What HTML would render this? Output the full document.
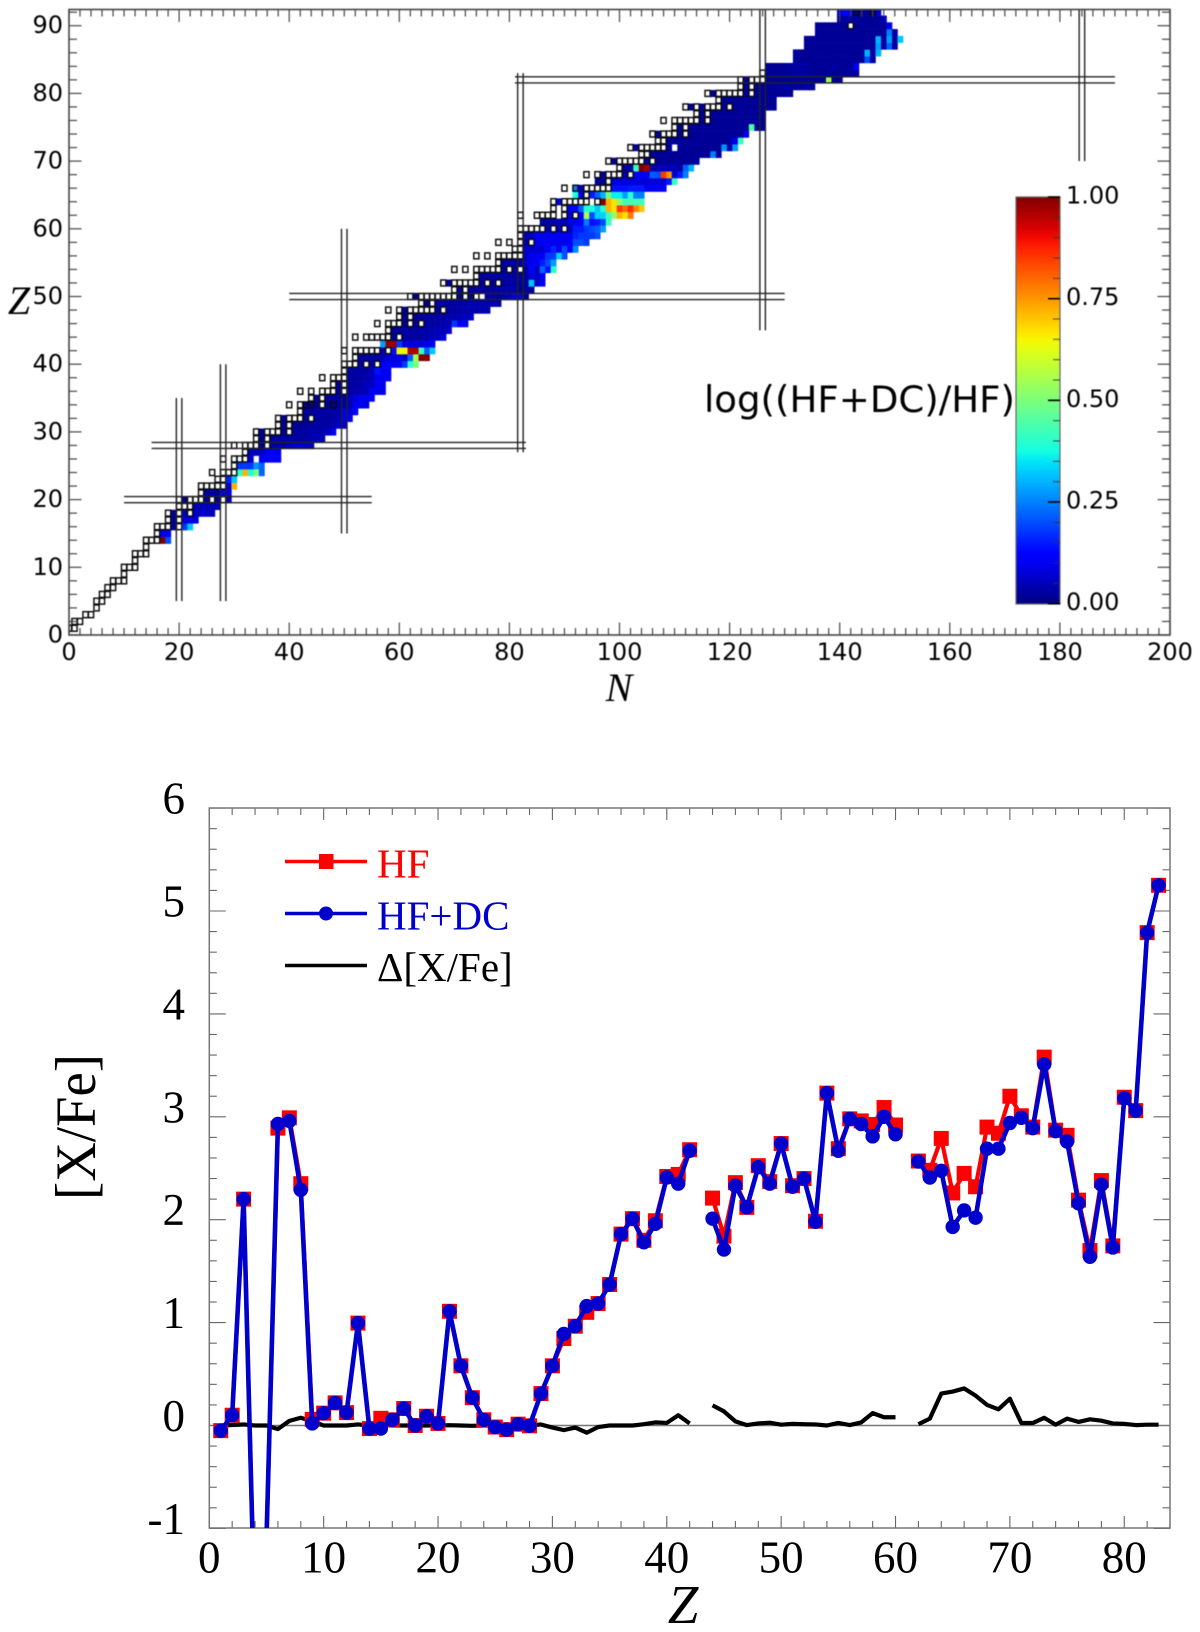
<!DOCTYPE html>
<html lang="en">
<head>
<meta charset="utf-8">
<title>Nuclear chart heat map and [X/Fe] abundance chart</title>
<style>
html,body{margin:0;padding:0;background:#fff;}
svg{display:block;}
.dj{font-family:"DejaVu Sans","Liberation Sans",sans-serif;fill:#000;}
.se{font-family:"Liberation Serif",serif;fill:#000;}
</style>
</head>
<body>
<svg id="fig" xmlns="http://www.w3.org/2000/svg" width="1200" height="1632" viewBox="0 0 1200 1632">
  <defs>
    <clipPath id="top-clip"><rect x="69" y="9.5" width="1101" height="625.5"/></clipPath>
    <clipPath id="bot-clip"><rect x="209.3" y="808" width="960.7" height="720"/></clipPath>
    <linearGradient id="jet-grad" x1="0" y1="1" x2="0" y2="0"></linearGradient>
  </defs>
  <g id="top-panel" style="filter:blur(0.4px)">
    <rect x="69" y="9.5" width="1101" height="625.5" fill="#fff"/>
    <g id="heat" clip-path="url(#top-clip)"></g>
    <g id="stable" clip-path="url(#top-clip)"></g>
    <g id="magic" clip-path="url(#top-clip)"></g>
    <g id="top-ticks"></g>
    <rect x="69" y="9.5" width="1101" height="625.5" fill="none" stroke="#444" stroke-width="1.6"/>
    <g id="top-labels"></g>
    <text class="se" x="619" y="701" font-size="40" font-style="italic" text-anchor="middle">N</text>
    <text class="se" x="19" y="314" font-size="40" font-style="italic" text-anchor="middle">Z</text>
    <text class="dj" x="704" y="412" font-size="36.7" textLength="311" lengthAdjust="spacingAndGlyphs">log((HF+DC)/HF)</text>
    <rect x="1016" y="197" width="44" height="407" fill="url(#jet-grad)" stroke="#666" stroke-width="1.2"/>
    <g id="cb-ticks"></g>
  </g>
  <g id="bottom-panel">
    <g id="bot-ticks"></g>
    <rect x="209.3" y="808" width="960.7" height="720" fill="none" stroke="#777" stroke-width="1.5"/>
    <line x1="209.3" x2="1170" y1="1425.5" y2="1425.5" stroke="#777" stroke-width="1.5"/>
    <g id="series" clip-path="url(#bot-clip)"></g>
    <g id="bot-labels"></g>
    <text class="se" transform="translate(95,1127) rotate(-90)" font-size="57" text-anchor="middle" textLength="146" lengthAdjust="spacingAndGlyphs">[X/Fe]</text>
    <text class="se" x="683" y="1623" font-size="55" font-style="italic" text-anchor="middle">Z</text>
    <g>
      <line x1="285" x2="367" y1="861.5" y2="861.5" stroke="#f00" stroke-width="3.4"/>
      <rect x="319" y="854" width="14.5" height="15" fill="#f00"/>
      <text class="se" x="377" y="877.5" font-size="41" style="fill:#f00">HF</text>
      <line x1="285" x2="367" y1="913.5" y2="913.5" stroke="#0000cd" stroke-width="3.4"/>
      <circle cx="326" cy="913.5" r="7" fill="#0000cd"/>
      <text class="se" x="377" y="929.5" font-size="41" style="fill:#0000cd">HF+DC</text>
      <line x1="285" x2="367" y1="965.5" y2="965.5" stroke="#000" stroke-width="3.6"/>
      <text class="se" x="377" y="981" font-size="41">Δ[X/Fe]</text>
    </g>
  </g>
</svg>
<script>
const X = -1; // no heat value in this cell (white background / stable box)

// ---------- top chart data ----------
const heatFirstZ = 14;
// first neutron number of each row, Z = 14..92
const heatStartN = [17,17,19,19,19,23,21,25,29,29,31,31,33,33,35,35,35,39,39,43,43,45,49,49,51,51,53,53,57,57,59,59,61,61,61,65,63,71,69,75,79,79,83,83,83,83,87,86,91,91,89,92,92,96,97,101,99,106,103,109,107,111,115,115,113,119,117,123,123,127,127,132,132,134,134,136,136,140,140];
// log((HF+DC)/HF) in percent for consecutive N in each row
const heatValues = [
[100,20],
[10,10],
[2,X,18,32],
[2,X,8,8,8],
[2,X,6,X,6,6,6,5],
[5,5,5,5,5],
[2,X,X,X,3,X,3,X,3],
[3,3,3,10,8],
[8,72],
[16,32],
[40,72,38,50,22],
[18,18,18,27,22],
[8,X,10,10,11,11],
[5,5,6,10,10,10],
[2,X,3,3,3,5,7,7,6,6],
[2,X,3,3,3,3,3,3,3,4,5,5],
[2,X,X,X,2,X,3,3,3,4,4,4,6,10],
[2,X,2,2,2,3,3,3,3,4,7,7],
[2,X,X,X,2,X,3,3,3,3,5,10,10],
[3,3,3,3,3,3,4,10,8,10],
[2,2,2,X,2,2,3,3,4,10,10,8],
[2,X,3,3,3,3,5,8,10,10,10],
[2,X,3,4,4,5,10,10,10],
[2,X,3,3,4,5,6,10,10],
[3,3,3,4,5,10,10,10],
[3,3,3,3,5,14,10,10],
[3,X,4,X,10,10,10,12,18,40,50],
[3,3,3,3,5,8,8,8,6,22,55,100,100],
[3,X,14,65,65,96,96,42,22,32],
[28,98,98,18,8,8,8,8,10,10],
[2,X,3,3,3,3,4,5,5,8],
[2,3,3,3,3,3,4,4,5,5,7],
[2,X,2,X,3,3,3,4,4,18,10,10],
[2,X,2,3,3,3,3,3,4,4,5,5,6],
[2,X,X,X,X,X,2,X,3,3,3,4,4,4,4,4],
[2,X,3,3,3,3,3,3,4,4,4,4,4,3],
[2,X,X,X,X,X,X,X,2,X,2,X,X,3,3,3,4,6,10,10,3],
[2,X,3,3,3,3,3,4,4,4,4,2,3,3],
[2,X,X,X,X,X,2,X,2,X,3,3,3,3,3,32,6,10],
[3,3,3,3,3,3,3,3,3,8,6,10],
[2,X,2,X,3,12,5,22,14,40],
[3,3,3,3,7,10,10,15,20,28],
[6,10,10,10,18,18,33,20],
[7,7,7,7,12,16,10,20,12,26],
[3,X,10,10,10,10,10,10,10,20,20,18],
[5,5,12,10,10,10,10,10,10,16,18,18,18,20],
[5,X,5,X,6,15,15,18,20,22,28],
[3,3,4,5,5,8,10,12,25,14,15,20,42],
[8,X,12,55,20,33,33,42,52,72,67,78],
[10,12,22,40,38,32,40,72,67,85,80,87,77,70],
[8,X,X,X,X,X,X,X,100,72,67,52,43,43,43,43],
[38,8,X,15,22,30,50,36,36,28,40,25,25],
[25,5,X,X,X,X,X,14,14,14,15,15,15,10,10,12,10],
[2,2,X,8,8,8,8,8,8,8,8,8,7,15,42],
[2,X,X,X,3,X,10,10,10,22,20,85,75,8,15,25],
[3,3,42,100,97,4,4,5,5,5,3,22,30],
[2,X,X,X,X,X,2,X,2,2,2,2,2,2,2,3],
[2,2,2,2,2,2,2,2,2,2,2,25,3],
[3,X,X,X,X,X,2,X,2,2,2,2,2,2,2,2,27,3,28],
[2,2,2,2,2,2,2,2,2,2,2,3,10,42],
[2,X,X,X,2,X,2,2,2,2,2,2,2,2,2,2,10],
[2,X,2,2,2,2,2,2,2,2,2,2,2,45,2,2],
[2,X,2,2,2,2,2,2,2,2,2,2],
[2,X,2,2,2,2,2,2,2,2,2,2],
[2,X,2,X,X,X,2,X,2,2,2,2,2,2,2,2],
[2,2,2,2,2,2,2,2,2,2],
[2,X,X,X,X,X,2,X,2,2,2,2,2,2,2],
[2,X,2,2,2,2,2,3,2,2,2,3,2],
[2,X,X,X,2,2,2,2,2,2,2,2,2,2,2,55,2,2],
[2,2,2,2,2,3,3,3,2,2,2,2,2,2,2,3,3],
[2,2,2,2,3,3,3,3,2,2,2,2,3,2,2,3,10],
[2,2,2,2,2,2,2,2,2,2,2,2,2,20,3],
[2,2,2,2,2,2,2,2,2,2,2,2,2,30,3,30],
[2,2,2,2,2,2,2,2,2,2,2,2,2,28,3,22,3],
[2,2,2,2,2,2,2,2,2,2,2,2,2,30,3,28,3,32],
[2,2,2,2,2,2,2,2,2,2,2,2,2,25,3],
[2,2,2,2,2,2,X,2,2,2,2,2,2,10],
[3,3,3,2,2,2,2,2,5],
[8,12,10,2,2,2,2,8]
];
// stable isotopes: proton number and mass numbers
const stableZ = [1,2,3,4,5,6,7,8,9,10,11,12,13,14,15,16,17,18,19,20,21,22,23,24,25,26,27,28,29,30,31,32,33,34,35,36,37,38,39,40,41,42,44,45,46,47,48,49,50,51,52,53,54,55,56,57,58,59,60,62,63,64,65,66,67,68,69,70,71,72,73,74,75,76,77,78,79,80,81,82,83,90,92];
const stableA = [[1,2],[3,4],[6,7],[9],[10,11],[12,13],[14,15],[16,17,18],[19],[20,21,22],[23],[24,25,26],[27],[28,29,30],[31],[32,33,34,36],[35,37],[36,38,40],[39,40,41],[40,42,43,44,46,48],[45],[46,47,48,49,50],[50,51],[50,52,53,54],[55],[54,56,57,58],[59],[58,60,61,62,64],[63,65],[64,66,67,68,70],[69,71],[70,72,73,74,76],[75],[74,76,77,78,80,82],[79,81],[78,80,82,83,84,86],[85,87],[84,86,87,88],[89],[90,91,92,94,96],[93],[92,94,95,96,97,98,100],[96,98,99,100,101,102,104],[103],[102,104,105,106,108,110],[107,109],[106,108,110,111,112,113,114,116],[113,115],[112,114,115,116,117,118,119,120,122,124],[121,123],[120,122,123,124,125,126,128,130],[127],[124,126,128,129,130,131,132,134,136],[133],[130,132,134,135,136,137,138],[138,139],[136,138,140,142],[141],[142,143,144,145,146,148,150],[144,147,148,149,150,152,154],[151,153],[152,154,155,156,157,158,160],[159],[156,158,160,161,162,163,164],[165],[162,164,166,167,168,170],[169],[168,170,171,172,173,174,176],[175,176],[174,176,177,178,179,180],[180,181],[180,182,183,184,186],[185,187],[184,186,187,188,189,190,192],[191,193],[190,192,194,195,196,198],[197],[196,198,199,200,201,202,204],[203,205],[204,206,207,208],[209],[232],[235,238]];
// magic-number shells: value, from, to
const magicN = [20,28,50,82,126,184];
const magicNFromZ = [5,5,15,27,45,70];
const magicNToZ = [35,40,60,83,93,93];
const magicZ = [20,28,50,82];
const magicZFromN = [10,15,40,81];
const magicZToN = [55,83,130,190];
const topXTickLabels = [0,20,40,60,80,100,120,140,160,180,200];
const topYTickLabels = [0,10,20,30,40,50,60,70,80,90];
const colorbarLabels = ["0.00","0.25","0.50","0.75","1.00"];

// ---------- bottom chart data ----------
const atomicNumbers = [1,2,3,4,5,6,7,8,9,10,11,12,13,14,15,16,17,18,19,20,21,22,23,24,25,26,27,28,29,30,31,32,33,34,35,36,37,38,39,40,41,42,43,44,45,46,47,48,49,50,51,52,53,54,55,56,57,58,59,60,61,62,63,64,65,66,67,68,69,70,71,72,73,74,75,76,77,78,79,80,81,82,83];
const hfValues = [-0.05,0.10,2.20,-2.0,-1.1,2.89,2.99,2.35,0.06,0.12,0.22,0.125,0.995,-0.03,0.07,0.055,0.165,0.0,0.09,0.02,1.11,0.58,0.27,0.055,-0.015,-0.04,0.013,-0.003,0.31,0.58,0.845,0.965,1.10,1.185,1.37,1.86,2.01,1.80,1.99,2.42,2.44,2.68,null,2.21,1.84,2.36,2.12,2.525,2.37,2.74,2.33,2.40,1.985,3.23,2.69,2.98,2.96,2.925,3.09,2.92,null,2.57,2.48,2.79,2.26,2.45,2.32,2.90,2.84,3.20,3.01,2.90,3.58,2.87,2.82,2.19,1.70,2.38,1.745,3.19,3.06,4.79,5.25];
const hfdcValues = [-0.05,0.10,2.20,-2.0,-1.1,2.93,2.96,2.29,0.02,0.12,0.22,0.125,0.995,-0.03,-0.03,0.055,0.165,0.0,0.09,0.02,1.11,0.58,0.27,0.055,-0.015,-0.04,0.013,-0.003,0.31,0.58,0.89,0.965,1.16,1.185,1.37,1.86,2.01,1.78,1.96,2.41,2.35,2.67,null,2.01,1.71,2.33,2.12,2.51,2.35,2.74,2.32,2.40,1.98,3.23,2.67,2.98,2.93,2.81,3.00,2.83,null,2.565,2.41,2.475,1.93,2.09,2.02,2.69,2.69,2.94,2.99,2.89,3.51,2.86,2.76,2.16,1.64,2.34,1.73,3.18,3.06,4.79,5.25];
const deltaValues = [0,0.005,0.01,0,0,-0.035,0.045,0.075,0.04,0,0,0,0.01,0,0.005,0,0,0,0,0,0.003,0,-0.003,0,0,0,0,0,0.01,-0.02,-0.045,-0.02,-0.07,-0.015,0,0,0,0.013,0.03,0.025,0.10,0.02,null,0.196,0.137,0.04,0.004,0.02,0.027,0.008,0.016,0.012,0.01,0,0.025,0.004,0.03,0.12,0.08,0.08,null,0.012,0.067,0.31,0.33,0.36,0.29,0.20,0.157,0.26,0.024,0.024,0.075,0.008,0.067,0.035,0.06,0.047,0.02,0.016,0.004,0.008,0.008];
const botXTickLabels = [0,10,20,30,40,50,60,70,80];
const botYTickLabels = [-1,0,1,2,3,4,5,6];

// ---------- axis functions ----------
function xN(n){ return 69 + 5.505*n; }
function yZ(z){ return 635 - 6.77*z; }
function xAtom(z){ return 209.3 + 11.437*z; }
function yAbund(v){ return 1425.5 - 102.9*v; }
function yCb(v){ return 603.7 - 406.7*v; }

const NS = 'http://www.w3.org/2000/svg';
function mk(parent, tag, attrs, text){
  const el = document.createElementNS(NS, tag);
  for (const k in attrs) el.setAttribute(k, attrs[k]);
  if (text !== undefined) el.textContent = text;
  parent.appendChild(el);
  return el;
}
function lerp(v, a, b, p, q){ return p + (q-p)*(v-a)/(b-a); }
function jet(v){
  let r, g, b;
  if (v < 0.35) r = 0; else if (v < 0.66) r = lerp(v,0.35,0.66,0,1); else if (v < 0.89) r = 1; else r = lerp(v,0.89,1,1,0.5);
  if (v < 0.125) g = 0; else if (v < 0.375) g = lerp(v,0.125,0.375,0,1); else if (v < 0.64) g = 1; else if (v < 0.91) g = lerp(v,0.64,0.91,1,0); else g = 0;
  if (v < 0.11) b = lerp(v,0,0.11,0.5,1); else if (v < 0.34) b = 1; else if (v < 0.65) b = lerp(v,0.34,0.65,1,0); else b = 0;
  return 'rgb(' + Math.round(r*255) + ',' + Math.round(g*255) + ',' + Math.round(b*255) + ')';
}

// ---------- heatmap ----------
const heatG = document.getElementById('heat');
heatValues.forEach(function(row, i){
  const z = heatFirstZ + i;
  row.forEach(function(val, j){
    if (val < 0) return;
    const n = heatStartN[i] + j;
    const c = mk(heatG, 'rect', {x: xN(n-0.5), y: yZ(z+0.5), width: 5.8, height: 7.05, fill: jet(val/100)});
    
    
  });
});

// ---------- stable boxes ----------
const stableG = document.getElementById('stable');
stableZ.forEach(function(z, i){
  stableA[i].forEach(function(a){
    const n = a - z;
    const b = mk(stableG, 'rect', {x: xN(n-0.47), y: yZ(z+0.44), width: 5.17, height: 5.96, fill: 'none', stroke: '#0a0a0a', 'stroke-width': 1.45});
    
    
  });
});

// ---------- magic-number lines ----------
const magicG = document.getElementById('magic');
magicN.forEach(function(n, i){
  [-0.5, 0.5].forEach(function(off){
    const l = mk(magicG, 'line', {x1: xN(n+off), x2: xN(n+off), y1: yZ(magicNFromZ[i]), y2: yZ(magicNToZ[i]), stroke: '#222', 'stroke-width': 1.4});
    
    
  });
});
magicZ.forEach(function(z, i){
  [-0.45, 0.45].forEach(function(off){
    const l = mk(magicG, 'line', {x1: xN(magicZFromN[i]), x2: xN(magicZToN[i]), y1: yZ(z+off), y2: yZ(z+off), stroke: '#222', 'stroke-width': 1.4});
    
    
  });
});

// ---------- top ticks and labels ----------
const topTicks = document.getElementById('top-ticks');
function tick(parent, x1, y1, x2, y2, color, w){
  const t = mk(parent, 'line', {x1: x1, y1: y1, x2: x2, y2: y2, stroke: color, 'stroke-width': w});
  
  
}
for (let n = 0; n <= 200; n += 2){
  const len = n % 20 === 0 ? 12.5 : 7;
  tick(topTicks, xN(n), 635, xN(n), 635-len, '#444', 1.2);
  tick(topTicks, xN(n), 9.5, xN(n), 9.5+len, '#444', 1.2);
}
for (let z = 0; z <= 92; z += 2){
  const len = z % 10 === 0 ? 12.5 : 8;
  tick(topTicks, 69, yZ(z), 69+len, yZ(z), '#444', 1.2);
  tick(topTicks, 1170, yZ(z), 1170-len, yZ(z), '#444', 1.2);
}
const topLabels = document.getElementById('top-labels');
topXTickLabels.forEach(function(v){
  const t = mk(topLabels, 'text', {x: xN(v), y: 660, 'font-size': 24, 'text-anchor': 'middle', class: 'dj'}, String(v));
  
  
});
topYTickLabels.forEach(function(v){
  const t = mk(topLabels, 'text', {x: 63, y: yZ(v)+7.5, 'font-size': 24, 'text-anchor': 'end', class: 'dj'}, String(v));
  
  
});

// ---------- colorbar ----------
const grad = document.getElementById('jet-grad');
for (let i = 0; i <= 40; i++){
  mk(grad, 'stop', {offset: (i/40), 'stop-color': jet(i/40)});
}
const cbTicks = document.getElementById('cb-ticks');
for (let i = 0; i <= 20; i++){
  const major = i % 5 === 0;
  tick(cbTicks, 1060, yCb(i/20), major ? 1048 : 1053, yCb(i/20), major ? '#000' : '#333', major ? 1.6 : 0.9);
}
colorbarLabels.forEach(function(s){
  const t = mk(cbTicks, 'text', {x: 1066, y: yCb(parseFloat(s))+6.5, 'font-size': 24, class: 'dj'}, s);
  
  
});

// ---------- bottom ticks and labels ----------
const botTicks = document.getElementById('bot-ticks');
for (let z = 0; z <= 84; z += 2){
  const len = z % 10 === 0 ? 12 : 7;
  tick(botTicks, xAtom(z), 1528, xAtom(z), 1528-len, '#666', 1.1);
  tick(botTicks, xAtom(z), 808, xAtom(z), 808+len, '#666', 1.1);
}
for (let k = -5; k <= 30; k++){
  const v = k/5;
  const len = k % 5 === 0 ? 16.5 : 7.5;
  tick(botTicks, 209.3, yAbund(v), 209.3+len, yAbund(v), '#666', 1.1);
  tick(botTicks, 1170, yAbund(v), 1170-len, yAbund(v), '#666', 1.1);
}
const botLabels = document.getElementById('bot-labels');
botXTickLabels.forEach(function(v){
  const t = mk(botLabels, 'text', {x: xAtom(v), y: 1572.5, 'font-size': 45, 'text-anchor': 'middle', class: 'se'}, String(v));
  
  
});
botYTickLabels.forEach(function(v){
  const t = mk(botLabels, 'text', {x: 185, y: yAbund(v)+5.5, 'font-size': 45, 'text-anchor': 'end', class: 'se'}, String(v));
  
  
});

// ---------- series ----------
const seriesG = document.getElementById('series');
function pathFor(vals){
  let d = '', pen = false;
  vals.forEach(function(v, i){
    if (v === null){ pen = false; return; }
    d += (pen ? 'L' : 'M') + xAtom(atomicNumbers[i]).toFixed(2) + ' ' + yAbund(v).toFixed(2);
    pen = true;
  });
  return d;
}
const deltaLine = mk(seriesG, 'path', {d: pathFor(deltaValues), fill: 'none', stroke: '#000', 'stroke-width': 4.2, 'stroke-linejoin': 'round'});


const hfLine = mk(seriesG, 'path', {d: pathFor(hfValues), fill: 'none', stroke: '#f00', 'stroke-width': 4.2, 'stroke-linejoin': 'round'});


hfValues.forEach(function(v, i){
  if (v === null) return;
  const m = mk(seriesG, 'rect', {x: xAtom(atomicNumbers[i])-7.5, y: yAbund(v)-7.5, width: 15, height: 15, fill: '#f00'});
  
  
});
const dcLine = mk(seriesG, 'path', {d: pathFor(hfdcValues), fill: 'none', stroke: '#0000cd', 'stroke-width': 4.6, 'stroke-linejoin': 'round'});


hfdcValues.forEach(function(v, i){
  if (v === null) return;
  const m = mk(seriesG, 'circle', {cx: xAtom(atomicNumbers[i]), cy: yAbund(v), r: 7.2, fill: '#0000cd'});
  
  
});
</script>
</body>
</html>
